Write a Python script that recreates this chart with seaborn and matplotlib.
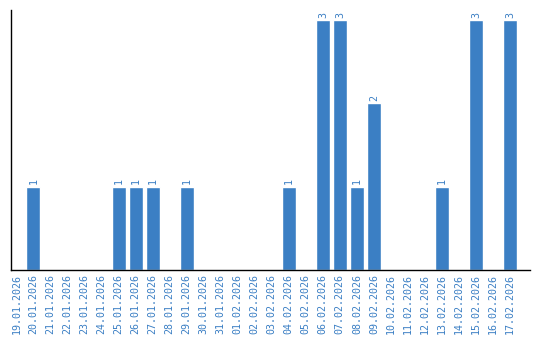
import matplotlib
matplotlib.use("Agg")
import matplotlib.pyplot as plt
import seaborn as sns
import pandas as pd

dates = ["19.01.2026","20.01.2026","21.01.2026","22.01.2026","23.01.2026","24.01.2026",
         "25.01.2026","26.01.2026","27.01.2026","28.01.2026","29.01.2026","30.01.2026",
         "31.01.2026","01.02.2026","02.02.2026","03.02.2026","04.02.2026","05.02.2026",
         "06.02.2026","07.02.2026","08.02.2026","09.02.2026","10.02.2026","11.02.2026",
         "12.02.2026","13.02.2026","14.02.2026","15.02.2026","16.02.2026","17.02.2026"]
counts = [0,1,0,0,0,0,1,1,1,0,1,0,0,0,0,0,1,0,3,3,1,2,0,0,0,1,0,3,0,3]

df = pd.DataFrame({"date": dates, "count": counts})
blue = "#3b7fc4"

sns.set_style("white")
fig = plt.figure(figsize=(5.4, 3.4), dpi=100)
ax = fig.add_axes([11/540, 70/340, 519/540, 260/340])
sns.barplot(data=df, x="date", y="count", color=blue, saturation=1, width=0.82, ax=ax)
ax.set_ylim(0, 3.12)
ax.set_xlim(-0.32, 30.17)
ax.set_yticks([])
ax.set_xlabel("")
ax.set_ylabel("")
for s in ["top", "right"]:
    ax.spines[s].set_visible(False)
for s in ["left", "bottom"]:
    ax.spines[s].set_color("black")
    ax.spines[s].set_linewidth(1)
ax.tick_params(axis="x", length=0, pad=3)
ax.set_xticks(range(len(dates)))
ax.set_xticklabels(dates, rotation=90, fontsize=7.2, family="DejaVu Sans Mono", color=blue)
for i, v in enumerate(counts):
    if v > 0:
        ax.text(i, v + 0.03, str(v), rotation=90, ha="center", va="bottom",
                fontsize=7.2, family="DejaVu Sans Mono", color=blue)
fig.savefig("out.png", dpi=100)
